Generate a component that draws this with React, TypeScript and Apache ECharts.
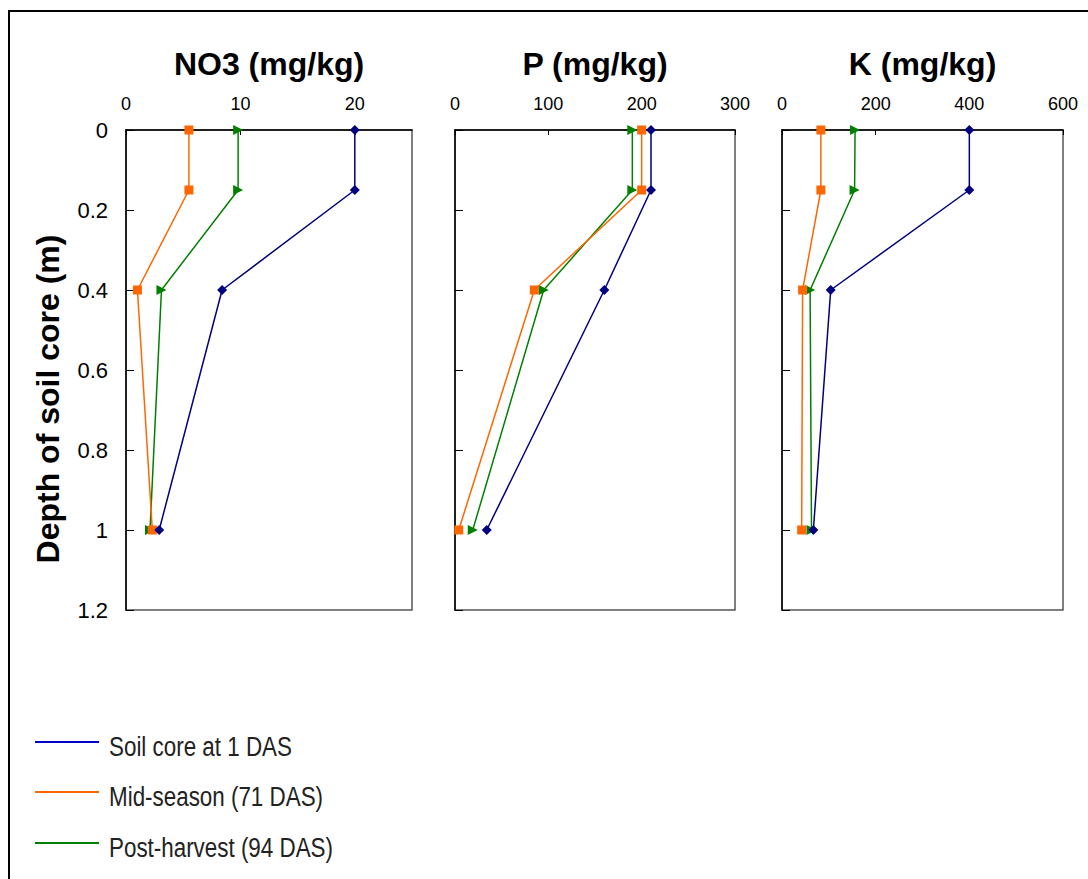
import React, { useEffect, useRef } from "react";
import * as echarts from "echarts";

const depths = [0, 0.15, 0.4, 1.0];
const seriesNames = ["Soil core at 1 DAS", "Mid-season (71 DAS)", "Post-harvest (94 DAS)"];

const no3Das1 = [20, 20, 8.4, 2.9];
const no3Mid = [5.5, 5.5, 1.0, 2.3];
const no3Post = [9.8, 9.8, 3.1, 2.1];

const pDas1 = [210, 210, 160, 34];
const pMid = [200, 200, 85, 4];
const pPost = [190, 190, 95, 19];

const kDas1 = [400, 400, 104, 67];
const kMid = [83, 83, 44, 42];
const kPost = [156, 155, 60, 63];

const panelTitles = ["NO3 (mg/kg)", "P (mg/kg)", "K (mg/kg)"];
const xMax = [25, 300, 600];
const xInterval = [10, 100, 200];
const yTitle = "Depth of soil core (m)";

const colors = ["#000080", "#FF6600", "#008000"];
const legendColors = ["#0000CC", "#FF6600", "#008000"];
const symbols = ["diamond", "rect", "triangle"];
const symbolRot = [0, 0, -90];

const panelData = [
  [no3Das1, no3Mid, no3Post],
  [pDas1, pMid, pPost],
  [kDas1, kMid, kPost],
];

const gridLefts = [126, 455, 782];
const gridWidths = [286, 280, 281];
const gridTop = 130;
const gridHeight = 480;
const legendYs = [742, 792, 843];

export default function App() {
  const ref = useRef<HTMLDivElement>(null);
  useEffect(() => {
    const chart = echarts.init(ref.current!, null, { renderer: "svg" });
    const font = "'Liberation Sans', Arial, sans-serif";
    const grids = gridLefts.map((l, i) => ({
      left: l,
      top: gridTop,
      width: gridWidths[i],
      height: gridHeight,
      show: true,
      borderColor: "#555",
      borderWidth: 1.5,
      backgroundColor: "transparent",
    }));
    const xAxes = gridLefts.map((_, i) => ({
      type: "value",
      gridIndex: i,
      position: "top",
      min: 0,
      max: xMax[i],
      interval: xInterval[i],
      axisLine: { show: true, lineStyle: { color: "#000", width: 1.5 } },
      axisTick: { show: true, inside: true, length: 5, lineStyle: { color: "#000" } },
      axisLabel: { color: "#000", fontSize: 18, fontFamily: font, margin: 17, showMaxLabel: i === 0 ? false : true },
      splitLine: { show: false },
    }));
    const yAxes = gridLefts.map((_, i) => ({
      type: "value",
      gridIndex: i,
      inverse: true,
      min: 0,
      max: 1.2,
      interval: 0.2,
      axisLine: { show: true, lineStyle: { color: "#000", width: 1.5 } },
      axisTick: { show: true, inside: true, length: 8, lineStyle: { color: "#000" } },
      axisLabel: {
        show: i === 0,
        color: "#000",
        fontSize: 22,
        fontFamily: font,
        margin: 18,
        formatter: (v: number) => String(Math.round(v * 10) / 10),
      },
      splitLine: { show: false },
    }));
    const series: any[] = [];
    panelData.forEach((panel, pi) => {
      panel.forEach((vals, si) => {
        series.push({
          type: "line",
          name: seriesNames[si],
          xAxisIndex: pi,
          yAxisIndex: pi,
          data: vals.map((v, k) => [v, depths[k]]),
          symbol: symbols[si],
          symbolSize: si === 1 ? 9 : 10,
          symbolRotate: symbolRot[si],
          showSymbol: true,
          lineStyle: { color: colors[si], width: 1.5 },
          itemStyle: { color: colors[si] },
          z: 3 - si,
        });
      });
    });
    const legendGraphics: any[] = [];
    seriesNames.forEach((n, i) => {
      legendGraphics.push({
        type: "line",
        shape: { x1: 35, y1: legendYs[i], x2: 99, y2: legendYs[i] },
        style: { stroke: legendColors[i], lineWidth: 2 },
        silent: true,
      });
      legendGraphics.push({
        type: "text",
        x: 109,
        y: legendYs[i] + 4,
        scaleX: 0.8,
        style: {
          text: n,
          fontSize: 28,
          fontFamily: font,
          fill: "#222",
          align: "left",
          verticalAlign: "middle",
        },
      });
    });
    chart.setOption({
      animation: false,
      backgroundColor: "#fff",
      grid: grids,
      xAxis: xAxes,
      yAxis: yAxes,
      series,
      graphic: [
        {
          type: "rect",
          shape: { x: 9, y: 11, width: 1200, height: 1000 },
          style: { fill: "none", stroke: "#000", lineWidth: 2 },
          silent: true,
        },
        ...panelTitles.map((t, i) => ({
          type: "text",
          x: gridLefts[i] + gridWidths[i] / 2,
          y: 64,
          style: {
            text: t,
            fontSize: 32,
            fontWeight: "bold",
            fontFamily: font,
            fill: "#000",
            align: "center",
            verticalAlign: "middle",
          },
        })),
        {
          type: "text",
          x: 48,
          y: 399,
          rotation: Math.PI / 2,
          style: {
            text: yTitle,
            fontSize: 32,
            fontWeight: "bold",
            fontFamily: font,
            fill: "#000",
            align: "center",
            verticalAlign: "middle",
          },
        },
        ...legendGraphics,
      ],
    });
    return () => chart.dispose();
  }, []);
  return <div ref={ref} style={{ position: "absolute", left: 0, top: 0, width: 1088, height: 879 }} />;
}
